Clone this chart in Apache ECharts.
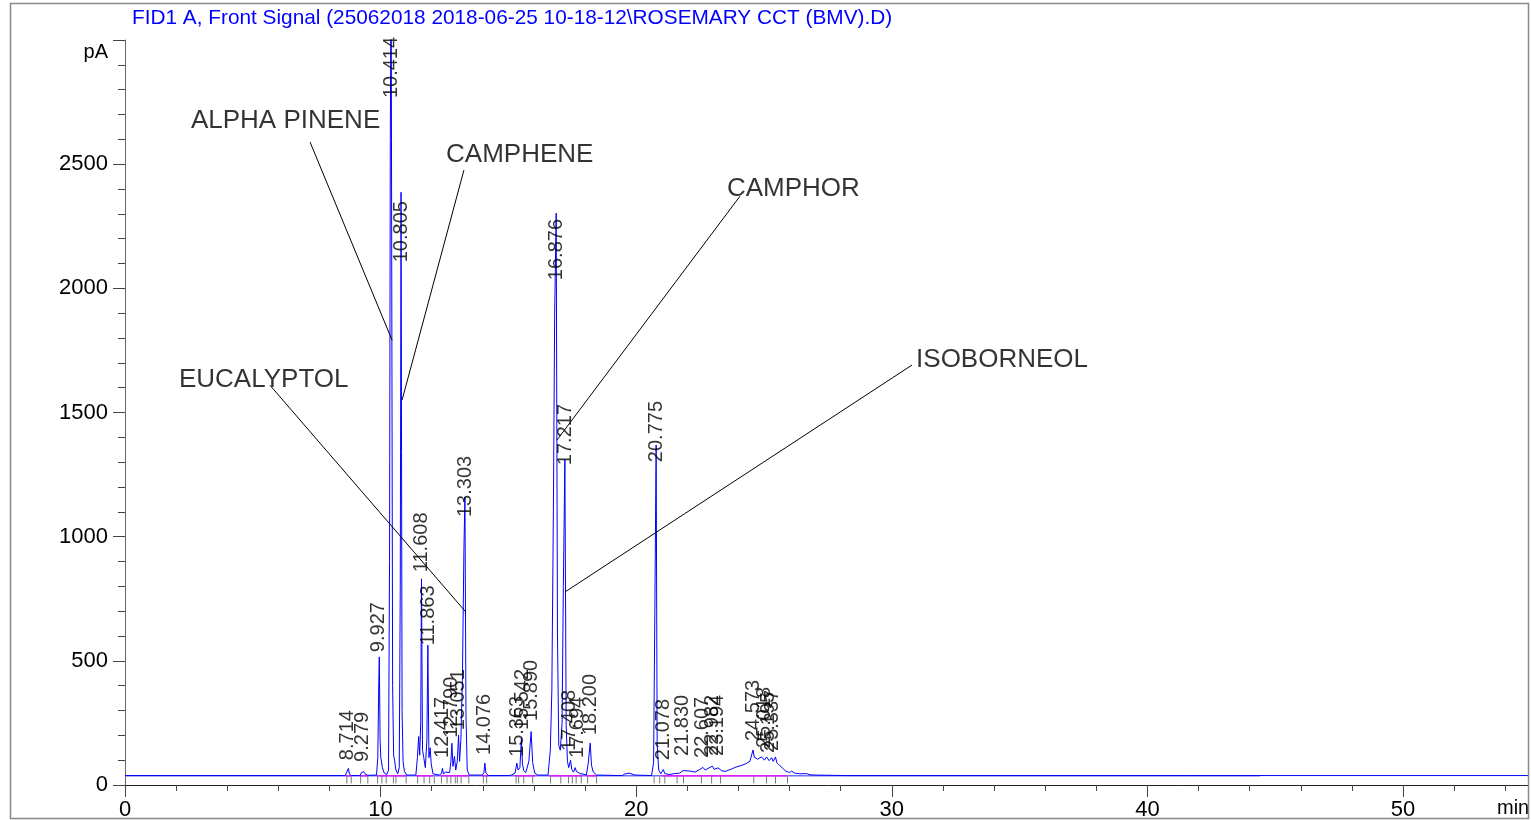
<!DOCTYPE html>
<html>
<head>
<meta charset="utf-8">
<title>FID1 A, Front Signal</title>
<script src="https://cdn.jsdelivr.net/npm/echarts@6/dist/echarts.min.js"></script>
<style>
html, body {margin: 0; padding: 0; background: #fff;}
#chart {width: 1531px; height: 820px;}
</style>
</head>
<body>
<div id="chart"></div>
<script>
const font = '"Liberation Sans", Arial, sans-serif';

const titleText = 'FID1 A, Front Signal (25062018 2018-06-25 10-18-12\\ROSEMARY CCT (BMV).D)';

// Detector trace, [time (min), signal (pA)].
const signal = [
    [0, 38], [8.62, 38], [8.69, 46], [8.74, 67], [8.78, 44], [8.86, 38],
    [9.2, 38], [9.25, 50], [9.29, 44], [9.34, 54], [9.39, 45], [9.44, 50], [9.5, 39],
    [9.84, 40], [9.89, 110], [9.93, 420], [9.95, 516], [9.98, 180], [10.01, 110], [10.04, 115],
    [10.07, 70], [10.14, 48], [10.24, 42],
    [10.31, 60], [10.35, 900], [10.38, 2600], [10.41, 3400], [10.44, 3400], [10.47, 400],
    [10.51, 120], [10.55, 97], [10.6, 60], [10.67, 45],
    [10.73, 70], [10.77, 800], [10.80, 2387], [10.84, 300], [10.88, 95], [10.93, 55], [11.02, 40],
    [11.38, 40], [11.44, 110], [11.49, 195], [11.53, 120], [11.57, 250], [11.6, 830], [11.64, 140],
    [11.69, 110], [11.75, 70], [11.81, 180], [11.85, 563], [11.89, 110], [11.94, 150], [11.98, 85],
    [12.05, 45], [12.3, 40],
    [12.38, 46], [12.42, 67], [12.46, 45], [12.55, 52], [12.62, 44], [12.7, 50], [12.75, 95],
    [12.79, 168], [12.83, 75], [12.89, 115], [12.94, 60], [13.0, 95], [13.05, 201], [13.09, 95],
    [13.14, 180], [13.2, 420], [13.26, 950], [13.3, 1160], [13.34, 280], [13.39, 60], [13.47, 40],
    [13.98, 40], [14.04, 50], [14.08, 88], [14.12, 48], [14.22, 38],
    [15.0, 38], [15.06, 44], [15.12, 40], [15.26, 48], [15.33, 88], [15.38, 60], [15.45, 70],
    [15.51, 190], [15.55, 85], [15.6, 58], [15.68, 50], [15.8, 95], [15.89, 215], [15.95, 90],
    [16.03, 48], [16.15, 40],
    [16.55, 40], [16.64, 140], [16.7, 383], [16.76, 1100], [16.81, 1900], [16.87, 2303], [16.92, 600],
    [16.97, 160], [17.03, 140], [17.1, 250], [17.15, 800], [17.21, 1310], [17.26, 240], [17.31, 95],
    [17.36, 70], [17.43, 100], [17.48, 62], [17.55, 52], [17.61, 70], [17.66, 55], [17.72, 62],
    [17.8, 46], [17.92, 44], [18.05, 40], [18.12, 85], [18.2, 169], [18.25, 80], [18.32, 52], [18.45, 40],
    [19.45, 38], [19.55, 44], [19.6, 40], [19.72, 48], [19.78, 40], [19.95, 40],
    [20.6, 38], [20.68, 90], [20.73, 700], [20.78, 1369], [20.82, 160], [20.88, 60], [20.96, 45],
    [21.06, 62], [21.12, 46], [21.3, 42], [21.5, 46], [21.7, 48], [21.83, 58], [21.9, 50],
    [22.1, 56], [22.3, 52], [22.5, 63], [22.61, 71], [22.7, 60], [22.85, 69], [22.98, 76],
    [23.05, 63], [23.2, 69], [23.35, 57], [23.5, 55], [23.7, 63], [23.9, 72], [24.1, 78],
    [24.3, 86], [24.45, 96], [24.57, 141], [24.62, 112], [24.75, 104], [24.9, 113], [25.02, 100],
    [25.1, 113], [25.2, 98], [25.3, 110], [25.36, 95], [25.45, 113], [25.5, 90], [25.6, 80],
    [25.75, 66], [25.85, 56], [26.0, 50], [26.08, 56], [26.2, 48], [26.4, 45], [26.67, 46],
    [26.8, 41], [27.0, 40], [28.2, 38], [55, 38], [60, 38],
];

// Lighter part of the trace (start of run up to ~44 min).
const lightTrace = [[0, 37.5], [44.4, 37.5]];

// Integration baselines (magenta), [start, end] in min.
const integrationSpans = [
    [8.65, 8.85], [9.2, 9.5], [9.85, 10.3], [10.35, 11.0], [11.4, 12.05], [12.35, 13.45],
    [13.98, 14.22], [15.25, 16.05], [16.6, 17.9], [18.05, 18.45], [21.0, 25.92],
];
const integrationLevel = 37;

// Peak start/stop marks below the baseline.
const boundaryTimes = [
    8.68, 8.85, 9.22, 9.5, 9.88, 10.05, 10.22, 10.5, 10.6, 11.0, 11.45, 11.7, 11.92, 12.1,
    12.38, 12.6, 12.75, 12.92, 13.0, 13.15, 13.45, 14.02, 14.15, 15.3, 15.4, 15.6, 15.95,
    16.65, 17.05, 17.35, 17.5, 17.65, 17.85, 18.1, 18.45, 20.7, 20.92, 21.12, 21.6, 21.85,
    22.55, 22.95, 23.3, 24.6, 25.1, 25.45, 25.92,
];
const boundaryLevel = 20;

// Retention times printed above the peaks and the pA level where each label starts.
const peakTimes = [
    8.714, 9.279, 9.927, 10.414, 10.805, 11.608, 11.863, 12.417, 12.790, 13.051, 13.303, 14.076,
    15.363, 15.542, 15.890, 16.876, 17.217, 17.408, 17.694, 18.200, 20.775, 21.078, 21.830,
    22.607, 22.982, 23.194, 24.573, 25.018, 25.195, 25.337,
];
const peakLabelLevels = [
    100, 93, 535, 2766, 2105, 857, 563, 109, 190, 220, 1079, 121,
    113, 221, 258, 2033, 1288, 137, 109, 201, 1300, 100, 117,
    109, 117, 117, 177, 149, 129, 137,
];

// Compound names with their leader lines, in (min, pA).
const compoundNames = ['ALPHA PINENE', 'CAMPHENE', 'CAMPHOR', 'EUCALYPTOL', 'ISOBORNEOL'];
const compoundTextAt = [[2.58, 2673], [12.56, 2536], [23.55, 2399], [2.11, 1630], [30.95, 1711]];
const compoundLeaderFrom = [[7.24, 2589], [13.26, 2476], [24.06, 2371], [5.67, 1610], [30.79, 1691]];
const compoundLeaderTo = [[10.45, 1791], [10.84, 1550], [16.90, 1389], [13.34, 696], [17.21, 777]];

// The axis runs on past the frame so that the minor ticks after 50 fall on 52 and 54.
const xTicks = {min: 0, max: 60, interval: 10, lastLabel: 50};
const yTicks = {min: 0, max: 3000, interval: 500};


function main() {
    const chart = echarts.init(document.getElementById('chart'), null, {renderer: 'canvas'});
    const axisColor = '#444';
    const pxPerMin = 25.56;

    const integrationSeries = integrationSpans.map(([a, b]) => ({
        type: 'line',
        silent: true,
        showSymbol: false,
        z: 2,
        lineStyle: {color: '#ff00ff', width: 1.2},
        data: [[a, integrationLevel], [b, integrationLevel]],
    }));

    const leaderSeries = compoundNames.map((name, i) => ({
        type: 'line',
        silent: true,
        showSymbol: false,
        z: 5,
        lineStyle: {color: '#000', width: 1},
        data: [compoundLeaderFrom[i], compoundLeaderTo[i]],
    }));

    chart.setOption({
        animation: false,
        backgroundColor: '#fff',
        textStyle: {fontFamily: font},
        title: {
            text: titleText,
            left: 132,
            top: 8,
            padding: 0,
            textStyle: {color: '#0000ff', fontSize: 20.8, fontWeight: 'normal', fontFamily: font},
        },
        grid: {
            left: 125,
            width: (xTicks.max - xTicks.min) * pxPerMin,
            top: 40,
            bottom: 35,
            containLabel: false,
            outerBoundsMode: 'none',
        },
        xAxis: {
            type: 'value',
            min: xTicks.min,
            max: xTicks.max,
            interval: xTicks.interval,
            axisLine: {show: true, onZero: false, lineStyle: {color: '#222', width: 1}},
            axisTick: {show: true, length: 12, lineStyle: {color: axisColor}},
            minorTick: {show: true, splitNumber: 5, length: 6, lineStyle: {color: axisColor}},
            splitLine: {show: false},
            axisLabel: {
                margin: 14,
                fontSize: 22,
                color: '#000',
                fontFamily: font,
                formatter: v => v > xTicks.lastLabel ? '' : String(v),
            },
        },
        yAxis: {
            type: 'value',
            min: yTicks.min,
            max: yTicks.max,
            interval: yTicks.interval,
            axisLine: {show: true, lineStyle: {color: '#666', width: 1}},
            axisTick: {show: true, length: 12, lineStyle: {color: axisColor}},
            minorTick: {show: true, splitNumber: 5, length: 7, lineStyle: {color: axisColor}},
            splitLine: {show: false},
            axisLabel: {
                margin: 17,
                fontSize: 22,
                color: '#000',
                fontFamily: font,
                formatter: v => v === yTicks.max ? '{u|pA}' : String(v),
                rich: {u: {fontSize: 20, color: '#000', fontFamily: font, padding: [24, 0, 0, 0]}},
            },
        },
        graphic: [
            {
                type: 'rect',
                silent: true,
                z: 99,
                shape: {x: 1529, y: 0, width: 2, height: 820},
                style: {fill: '#fff'},
            },
            {
                type: 'text',
                silent: true,
                z: 98,
                x: 1497,
                y: 808,
                style: {
                    text: 'min', fill: '#000', font: `20px ${font}`,
                    textAlign: 'left', textVerticalAlign: 'middle',
                },
            },
            {
                type: 'rect',
                silent: true,
                z: 100,
                shape: {x: 10.5, y: 3.5, width: 1518, height: 815},
                style: {fill: 'none', stroke: '#888', lineWidth: 1.5},
            },
        ],
        series: [
            {
                type: 'line',
                silent: true,
                showSymbol: false,
                z: 3,
                lineStyle: {color: '#0000ff', width: 1},
                data: signal,
            },
            {
                type: 'line',
                silent: true,
                showSymbol: false,
                z: 2,
                lineStyle: {color: '#7070ff', width: 1.6},
                data: lightTrace,
            },
            ...integrationSeries,
            {
                type: 'scatter',
                silent: true,
                symbol: 'rect',
                symbolSize: [1, 7],
                z: 4,
                itemStyle: {color: '#555'},
                data: boundaryTimes.map(t => [t, boundaryLevel]),
            },
            {
                type: 'scatter',
                silent: true,
                symbolSize: 0,
                z: 6,
                label: {
                    show: true,
                    position: [0, 0],
                    rotate: 90,
                    align: 'left',
                    verticalAlign: 'middle',
                    fontSize: 20,
                    color: '#000',
                    fontFamily: font,
                    formatter: p => p.value[0].toFixed(3),
                },
                data: peakTimes.map((t, i) => [t, peakLabelLevels[i]]),
            },
            ...leaderSeries,
            {
                type: 'scatter',
                silent: true,
                symbolSize: 0,
                z: 6,
                label: {
                    show: true,
                    position: [0, 0],
                    align: 'left',
                    verticalAlign: 'middle',
                    fontSize: 26,
                    color: '#000',
                    fontFamily: font,
                    formatter: p => p.value[2],
                },
                data: compoundNames.map((n, i) => [compoundTextAt[i][0], compoundTextAt[i][1], n]),
            },
        ],
    });
}

main();
</script>
</body>
</html>
